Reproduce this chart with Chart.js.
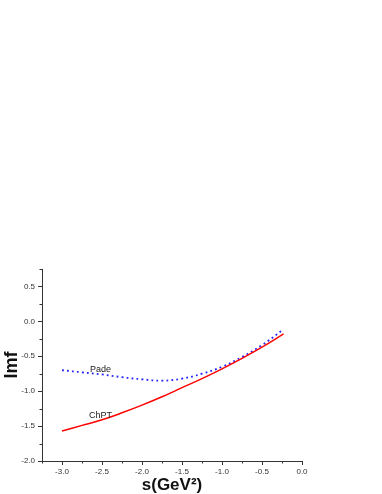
<!DOCTYPE html>
<html><head><meta charset="utf-8">
<script src="https://cdn.jsdelivr.net/npm/chart.js@4"></script>
<style>html,body{margin:0;padding:0;background:#fff}#wrap{width:382px;height:494px}</style>
</head><body><div id="wrap"><canvas id="c" width="382" height="494"></canvas></div>
<script>
const sValues = [-3.0,-2.75,-2.5,-2.25,-2.0,-1.75,-1.5,-1.25,-1.0,-0.75,-0.5,-0.23];
const chptValues = [-1.57,-1.49,-1.41,-1.31,-1.20,-1.08,-0.95,-0.82,-0.68,-0.53,-0.37,-0.18];
const padeS = [-3.0,-2.75,-2.5,-2.25,-2.0,-1.75,-1.5,-1.25,-1.0,-0.75,-0.5,-0.25];
const padeValues = [-0.70,-0.73,-0.76,-0.80,-0.83,-0.85,-0.82,-0.75,-0.65,-0.51,-0.34,-0.13];
const xTickLabels = [-3.0,-2.5,-2.0,-1.5,-1.0,-0.5,0.0];
const yTickLabels = [-2.0,-1.5,-1.0,-0.5,0.0,0.5];
const curveLabels = [{text:'Pade', x:-2.52, y:-0.69},{text:'ChPT', x:-2.52, y:-1.35}];

const minorTicks = {
  id:'minorTicks',
  afterDraw(chart){
    const ctx = chart.ctx, xs = chart.scales.x, ys = chart.scales.y;
    ctx.save(); ctx.strokeStyle='#333'; ctx.lineWidth=1;
    for(let v=-3.25; v<=0.001; v+=0.25){
      const major = Math.abs(v*2-Math.round(v*2))<1e-6;
      const px = Math.round(xs.getPixelForValue(v))+0.5;
      ctx.beginPath(); ctx.moveTo(px, ys.bottom); ctx.lineTo(px, ys.bottom+(major?4:2.5)); ctx.stroke();
    }
    for(let v=-2.0; v<=0.75+0.001; v+=0.25){
      const major = Math.abs(v*2-Math.round(v*2))<1e-6;
      const py = Math.round(ys.getPixelForValue(v))+0.5;
      ctx.beginPath(); ctx.moveTo(xs.left, py); ctx.lineTo(xs.left-(major?4:2.5), py); ctx.stroke();
    }
    ctx.fillStyle='#222'; ctx.font='9px Arial, "Liberation Sans"'; ctx.textAlign='center'; ctx.textBaseline='middle';
    curveLabels.forEach(l=>ctx.fillText(l.text, xs.getPixelForValue(l.x), ys.getPixelForValue(l.y)));
    ctx.restore();
  }
};

new Chart(document.getElementById('c'), {
  type:'line',
  data:{datasets:[
    {label:'ChPT', data:sValues.map((s,i)=>({x:s,y:chptValues[i]})), borderColor:'#ff0000', borderWidth:1.5, pointRadius:0, tension:0.4},
    {label:'Pade', data:padeS.map((s,i)=>({x:s,y:padeValues[i]})), borderColor:'#2222ff', borderWidth:1.8, borderDash:[1.8,3.2], pointRadius:0, tension:0.4}
  ]},
  options:{
    responsive:false, animation:false,
    layout:{padding:{top:269, right:80, left:0, bottom:0}},
    plugins:{legend:{display:false}, tooltip:{enabled:false}},
    scales:{
      x:{type:'linear', min:-3.25, max:0,
        afterBuildTicks:s=>{s.ticks=xTickLabels.map(v=>({value:v}));},
        afterFit:s=>{s.height=33;},
        grid:{display:false, drawTicks:false},
        border:{display:true, color:'#333', width:1},
        ticks:{padding:6, color:'#333', font:{size:8, family:'Arial, "Liberation Sans"'}, callback:v=>v.toFixed(1), maxRotation:0},
        title:{display:true, text:'s(GeV²)', color:'#111', font:{size:17, weight:'bold', family:'Arial, "Liberation Sans"'}, padding:{top:0,bottom:-2}}
      },
      y:{type:'linear', min:-2, max:0.75,
        afterBuildTicks:s=>{s.ticks=yTickLabels.map(v=>({value:v}));},
        afterFit:s=>{s.width=42;},
        grid:{display:false, drawTicks:false},
        border:{display:true, color:'#333', width:1},
        ticks:{padding:7, color:'#333', font:{size:8, family:'Arial, "Liberation Sans"'}, callback:v=>v.toFixed(1)},
        title:{display:true, text:'Imf', color:'#111', font:{size:18, weight:'bold', family:'Arial, "Liberation Sans"'}, padding:{top:1,bottom:0}}
      }
    }
  },
  plugins:[minorTicks]
});
</script></body></html>
